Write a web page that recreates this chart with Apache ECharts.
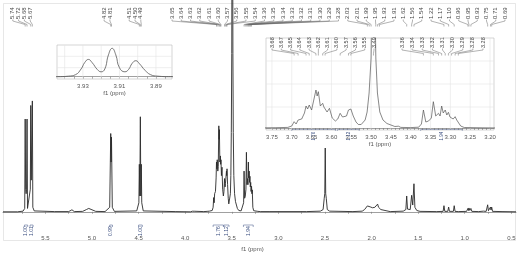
<!DOCTYPE html>
<html><head><meta charset="utf-8">
<script src="https://cdn.jsdelivr.net/npm/echarts@6/dist/echarts.min.js"></script>
<style>html,body{margin:0;padding:0;background:#fff}#c{width:521px;height:257px}</style>
</head><body><div id="c"></div>
<script>
// ---- spectrum (ppm, intensity) ----
const spectrumPpm = [5.955,5.80,5.74,5.722,5.717,5.712,5.707,5.702,5.697,5.692,5.672,5.662,5.657,5.652,5.645,5.640,5.635,5.62,5.40,5.25,5.215,5.19,5.10,5.06,5.035,5.0,4.96,4.86,
4.81,4.799,4.795,4.791,4.782,4.76,4.52,4.497,4.492,4.487,4.481,4.476,4.471,4.466,4.45,4.10,
3.944,3.938,3.934,3.931,3.929,3.927,3.925,3.922,3.920,3.918,3.916,3.914,3.912,3.910,3.907,3.905,3.903,3.901,3.899,3.896,3.893,3.889,3.882,
3.80,3.765,3.74,3.71,3.70,3.694,3.689,3.684,3.675,3.668,3.664,3.660,3.656,3.650,3.645,3.639,3.636,3.633,3.628,3.622,3.619,3.616,3.611,3.605,3.598,3.590,3.584,3.578,3.572,3.568,3.562,3.557,3.554,3.551,3.545,3.538,3.532,3.525,3.515,3.510,3.505,3.500,3.497,3.494,3.491,3.488,3.484,3.478,3.470,3.460,3.45,3.44,3.431,3.425,3.40,3.380,3.373,3.368,3.362,3.355,3.348,3.343,3.337,3.330,3.326,3.322,3.318,3.313,3.309,3.305,3.301,3.297,3.293,3.288,3.284,3.280,3.274,3.265,3.22,3.195,
3.10,2.70,2.55,2.52,2.508,2.502,2.497,2.492,2.486,2.475,2.45,2.20,2.10,2.075,2.058,2.045,2.035,2.025,2.015,2.005,1.99,1.975,1.965,1.955,1.945,1.935,1.925,1.915,1.90,1.88,1.80,
1.66,1.632,1.623,1.614,1.585,1.570,1.558,1.545,1.535,1.515,1.48,1.30,1.232,1.223,1.214,1.182,1.173,1.164,1.122,1.113,1.104,1.07,1.062,1.055,
0.98,0.966,0.960,0.955,0.945,0.934,0.924,0.85,0.80,0.77,0.762,0.754,0.746,0.73,0.724,0.718,0.711,0.702,0.60,0.45];
const spectrumInt = [0,0,0.3,1.5,41,10,8,10,41,1.5,1.5,10,47,14,14,49,2,0.4,0.1,0.1,0.9,0.1,0.2,1.0,1.5,0.9,0.2,0.1,
2,34.6,22,33,2,0.2,0.4,4,21,7,42,7,21,4,0.4,0.1,
0.0,0.02,0.08,0.3,0.55,0.67,0.55,0.27,0.19,0.3,0.85,1.10,0.85,0.35,0.19,0.28,0.52,0.62,0.5,0.25,0.08,0.02,0.0,
0.1,0.2,0.3,0.6,2.0,6.3,4,8,9,15,22,19,23,18,20,38,32,36.3,22,24.7,21,23,16,19.7,10,7,9,14.7,11,12.5,12,18,16,19,12,6,3.5,3.5,8,16,35,70,150,400,150,70,35,16,8,4.5,3,1.5,1.8,0.6,0.4,0.8,4,18,6,7,10,26.3,12,14.7,12,22,15,18,13,15.7,11,13,9,11.3,8,9.7,2,0.5,0.2,0.1,
0.1,0.1,0.3,1,6,8,28.2,8,6,1,0.3,0.1,0.3,1.0,1.6,2.6,1.8,3.4,2.2,3.0,1.8,1.6,2.0,2.8,2.0,3.4,2.0,2.6,1.0,0.3,0.1,
0.3,1,7.0,1.2,1,7.3,3,12.4,2,0.6,0.2,0.1,0.2,2.7,0.2,0.2,2.1,0.2,0.2,2.7,0.2,0.1,0.5,0.1,
0.2,1.5,0.6,1.7,0.6,1.5,0.2,0.1,0.3,0.2,0.5,3.1,0.5,0.5,2.1,0.8,2.1,0.2,0.1,0];

// ---- tick labels ----
const mainTickLabels = [5.5,5.0,4.5,4.0,3.5,3.0,2.5,2.0,1.5,1.0,0.5];
const inset1TickLabels = [3.93,3.91,3.89];
const inset2TickLabels = [3.75,3.70,3.65,3.60,3.55,3.50,3.45,3.40,3.35,3.30,3.25,3.20];

// ---- peak labels ----
const peakLabelText = ['5.74','5.72','5.68','5.67','4.82','4.81','4.51','4.50','4.49',
'3.65','3.64','3.63','3.62','3.61','3.60','3.57','3.56','3.55','3.54',
'3.36','3.35','3.34','3.33','3.32','3.31','3.30','3.29','3.28',
'2.03','2.01','1.99','1.95','1.93','1.91','1.62','1.56','1.54','1.22','1.17','1.10','0.96','0.95','0.93','0.75','0.71','0.69'];
const peakLabelPpm = [5.717,5.697,5.657,5.640,4.799,4.791,4.492,4.481,4.471,
3.664,3.656,3.639,3.633,3.622,3.616,3.578,3.568,3.557,3.551,
3.368,3.355,3.343,3.330,3.322,3.313,3.305,3.297,3.288,
2.045,2.025,2.005,1.955,1.935,1.915,1.623,1.570,1.545,1.223,1.173,1.113,0.966,0.955,0.934,0.754,0.724,0.711];
const insetLabelText = ['3.68','3.67','3.65','3.64','3.63','3.62','3.61','3.60','3.57','3.56','3.55','3.49',
'3.36','3.34','3.33','3.32','3.31','3.30','3.29','3.28','3.28'];
const insetLabelPpm = [3.694,3.684,3.664,3.656,3.639,3.633,3.622,3.616,3.578,3.557,3.551,3.494,
3.368,3.343,3.330,3.322,3.313,3.305,3.297,3.288,3.280];

// ---- integrals ----
const integralFrom = [5.725,5.665,4.81,4.50,3.70,3.585,3.375];
const integralTo = [5.690,5.632,4.78,4.46,3.59,3.53,3.27];
const integralValue = ['1.00','1.01','0.99','1.00','1.76','1.12','1.94'];

const FONT = 'Liberation Sans, Arial, sans-serif';
const data = spectrumPpm.map((p,i)=>[p, spectrumInt[i]]);
function steps(a,b,s){const r=[];const n=Math.round((b-a)/s);for(let i=0;i<=n;i++)r.push(+(a+i*s).toFixed(4));return r;}

const chart = echarts.init(document.getElementById('c'), null, {renderer:'canvas'});
const axisCommon = (ticks, minor, dec, margin, gap) => ({
  type:'value', inverse:true,
  axisLine:{lineStyle:{color:'#777',width:0.7}},
  axisTick:{customValues:minor,length:2,lineStyle:{color:'#777',width:0.6}},
  axisLabel:{customValues:ticks,formatter:v=>v.toFixed(dec),fontSize:6,color:'#555',margin:margin,fontFamily:FONT},
  splitLine:{show:false},
  name:'f1 (ppm)', nameLocation:'middle', nameGap:gap,
  nameTextStyle:{fontSize:6,color:'#555',fontFamily:FONT}
});
const x0 = Object.assign(axisCommon(mainTickLabels, steps(0.5,5.75,0.25),1,2,11),{gridIndex:0,min:0.45,max:5.955});
x0.nameTextStyle.padding=[0,14,0,0];
const x1 = Object.assign(axisCommon(inset1TickLabels, steps(3.885,3.94,0.005),2,4,10),{gridIndex:1,min:3.8812,max:3.9442});
const x2 = Object.assign(axisCommon(inset2TickLabels, steps(3.20,3.75,0.01),2,4,10),{gridIndex:2,min:3.19,max:3.765});

chart.setOption({
  animation:false,
  backgroundColor:'#fff',
  grid:[
    {left:3,right:5,top:0,bottom:16},
    {left:57,top:45,width:115,height:34,show:true,backgroundColor:'#fff',borderColor:'#bbb',borderWidth:0.6},
    {left:266,top:38,width:228,height:92,show:true,backgroundColor:'#fff',borderColor:'#bbb',borderWidth:0.6}
  ],
  xAxis:[x0,x1,x2],
  yAxis:[
    {gridIndex:0,type:'value',min:-9.4,max:93.6,show:false},
    {gridIndex:1,type:'value',min:-0.09,max:1.23,show:false},
    {gridIndex:2,type:'value',min:-2,max:90,show:false}
  ],
  series:[
    {type:'line',xAxisIndex:0,yAxisIndex:0,data:data,showSymbol:false,lineStyle:{color:'#2a2a2a',width:0.9}},
    {type:'line',xAxisIndex:1,yAxisIndex:1,data:data,showSymbol:false,smooth:0.5,lineStyle:{color:'#555',width:0.8}},
    {type:'line',xAxisIndex:2,yAxisIndex:2,data:data,showSymbol:false,lineStyle:{color:'#555',width:0.7}}
  ]
});

// ---- overlay graphics positioned through the axes ----
const px = (ai, v) => chart.convertToPixel({xAxisIndex:ai}, v);
const els = [];
function vtext(x, y, t, size, color){
  els.push({type:'text',x:x,y:y,rotation:Math.PI/2,z:20,
    style:{text:t,fontSize:size,fontFamily:FONT,fill:color,align:'left',verticalAlign:'middle'}});
}
function line(pts, color, w, z){ els.push({type:'polyline',z:z||10,shape:{points:pts},style:{stroke:color,lineWidth:w,fill:null}}); }

// frame
els.push({type:'rect',z:-1,shape:{x:3.5,y:3.5,width:512,height:237},style:{fill:null,stroke:'#d6d6d6',lineWidth:0.6}});

// inset grid lines
[3.94,3.93,3.92,3.91,3.90,3.89].forEach(v=>{const x=px(1,v);line([[x,45],[x,79]],'#e4e4e4',0.6,1);});
[45+34/3,45+68/3].forEach(y=>line([[57,y],[172,y]],'#e4e4e4',0.6,1));
inset2TickLabels.forEach(v=>{const x=px(2,v);line([[x,38],[x,130]],'#e4e4e4',0.6,1);});
[38+23,38+46,38+69].forEach(y=>line([[266,y],[494,y]],'#e4e4e4',0.6,1));

// label layouts
function spread(n,c,s){const r=[];for(let i=0;i<n;i++)r.push(c+(i-(n-1)/2)*s);return r;}
function even(n,a,b){const r=[];for(let i=0;i<n;i++)r.push(a+(b-a)*i/(n-1));return r;}
const mainLX = [].concat(spread(4,21.5,5.8),spread(2,107,5.8),spread(3,135,5.8),even(37,172,505));
peakLabelText.forEach((t,i)=>{
  const lx=mainLX[i], pk=px(0,peakLabelPpm[i]);
  vtext(lx,19,t,6,'#444');
  line([[lx,19.5],[lx,21],[pk,24.5],[pk,26.5]],'#666',0.5);
});
const insLX = [].concat(even(12,272,374),even(9,402,483));
insetLabelText.forEach((t,i)=>{
  const lx=insLX[i], pk=px(2,insetLabelPpm[i]);
  vtext(lx,48,t,5.5,'#444');
  line([[lx,48.5],[lx,50],[pk,53.5],[pk,55.5]],'#666',0.5);
});

// integrals
const IC = '#3b4f80';
integralFrom.forEach((f,i)=>{
  const a=px(0,f), b=px(0,integralTo[i]), m=(a+b)/2;
  line([[a,227],[a,225],[b,225],[b,227]],IC,0.5);
  vtext(m,236,integralValue[i],5,IC);
  if (f<=3.765 && integralTo[i]>=3.19){
    const a2=px(2,f), b2=px(2,integralTo[i]), m2=(a2+b2)/2;
    line([[a2,131],[a2,129.5],[b2,129.5],[b2,131]],IC,0.4);
    vtext(m2,140.5,integralValue[i],4.5,IC);
  }
});
chart.setOption({graphic:{elements:els}});
</script></body></html>
